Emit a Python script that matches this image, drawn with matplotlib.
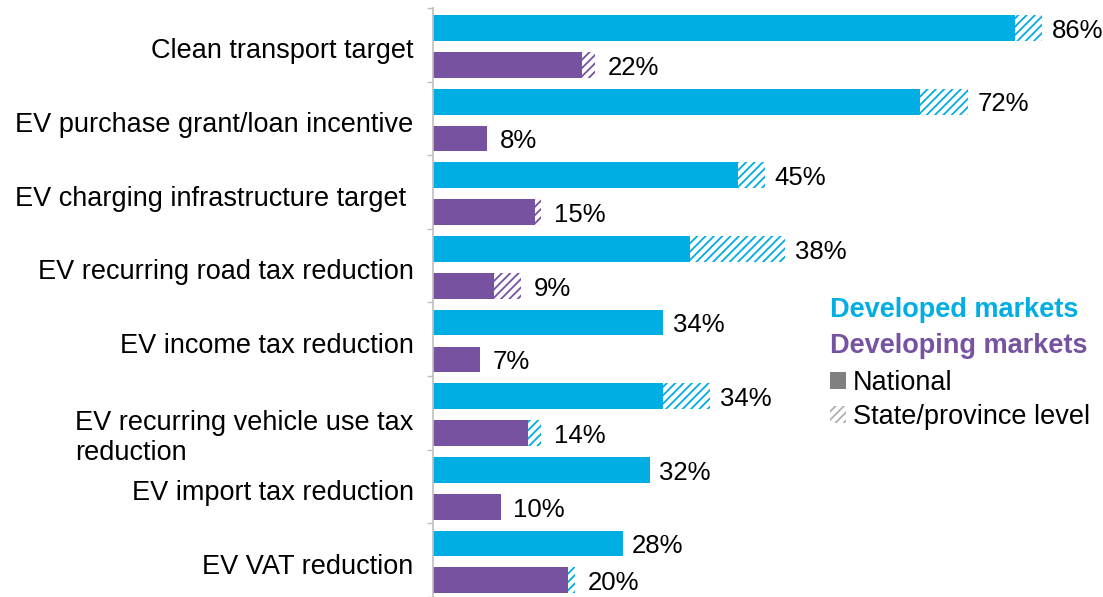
import matplotlib as mpl
mpl.use('Agg')
import matplotlib.pyplot as plt
from matplotlib.patches import Patch

plt.rcParams['font.family'] = ['Liberation Sans', 'DejaVu Sans']
plt.rcParams['hatch.linewidth'] = 1.3

categories = ['Clean transport target',
              'EV purchase grant/loan incentive',
              'EV charging infrastructure target ',
              'EV recurring road tax reduction',
              'EV income tax reduction',
              'EV recurring vehicle use tax\nreduction',
              'EV import tax reduction',
              'EV VAT reduction']
developed_national = [86, 72, 45, 38, 34, 34, 32, 28]
developed_state = [4, 7, 4, 14, 0, 7, 0, 0]
developing_national = [22, 8, 15, 9, 7, 14, 10, 20]
developing_state = [2, 0, 1, 4, 0, 2, 0, 1]
# hatch colour used for the developing-market state segment
developing_state_colors = ['purple', 'purple', 'purple', 'purple',
                           'purple', 'blue', 'purple', 'blue']

BLUE = '#00AEE4'
PURPLE = '#7652A1'
cmap = {'blue': BLUE, 'purple': PURPLE}

fig = plt.figure(figsize=(11.03, 5.97), dpi=100)
ax = fig.add_axes([0.3926, 0.0, 0.6074, 0.9866])

bar_h = 0.35
for i in range(len(categories)):
    yb = i + 0.272
    yp = i + 0.774
    ax.barh(yb, developed_national[i], height=bar_h, color=BLUE, lw=0)
    if developed_state[i]:
        ax.barh(yb, developed_state[i], left=developed_national[i], height=bar_h,
                facecolor='white', edgecolor=BLUE, hatch='////', lw=0)
    ax.barh(yp, developing_national[i], height=bar_h, color=PURPLE, lw=0)
    if developing_state[i]:
        ax.barh(yp, developing_state[i], left=developing_national[i], height=bar_h,
                facecolor='white', edgecolor=cmap[developing_state_colors[i]],
                hatch='////', lw=0)
    ax.annotate(f'{developed_national[i]}%',
                (developed_national[i] + developed_state[i], yb),
                xytext=(7, -2), textcoords='offset points',
                va='center', ha='left', fontsize=18.5)
    ax.annotate(f'{developing_national[i]}%',
                (developing_national[i] + developing_state[i], yp),
                xytext=(9, -2), textcoords='offset points',
                va='center', ha='left', fontsize=18.5)
    shift = 0.25 if '\n' in categories[i] else 0
    ax.annotate(categories[i], (0, i + 0.523 + shift),
                xycoords=('axes fraction', 'data'),
                xytext=(-14, -3.5), textcoords='offset points',
                fontsize=19.5, ha='right', va='center', multialignment='left')

ax.set_xlim(0, 99)
ax.set_ylim(8, 0)
ax.set_yticks(range(9))
ax.set_yticklabels([])
ax.set_xticks([])
ax.tick_params(axis='y', direction='out', length=4, color='#bfbfbf', width=1)
for s in ['top', 'right', 'bottom']:
    ax.spines[s].set_visible(False)
ax.spines['left'].set_color('#bfbfbf')
ax.spines['left'].set_linewidth(1.2)

fig.text(0.7525, 0.481, 'Developed markets', color=BLUE, fontsize=19.5,
         fontweight='bold', va='center', ha='left')
fig.text(0.7525, 0.4205, 'Developing markets', color=PURPLE, fontsize=19.5,
         fontweight='bold', va='center', ha='left')
handles = [Patch(facecolor='#808080', edgecolor='#808080', lw=0),
           Patch(facecolor='white', edgecolor='#b0b0b0', hatch='////', lw=0)]
fig.legend(handles, ['National', 'State/province level'], loc='upper left',
           bbox_to_anchor=(0.7525, 0.38), frameon=False, fontsize=19.5,
           handlelength=0.6, handleheight=0.6, handletextpad=0.25,
           labelspacing=0.3, borderaxespad=0, borderpad=0)

fig.savefig('out.png', dpi=100)
